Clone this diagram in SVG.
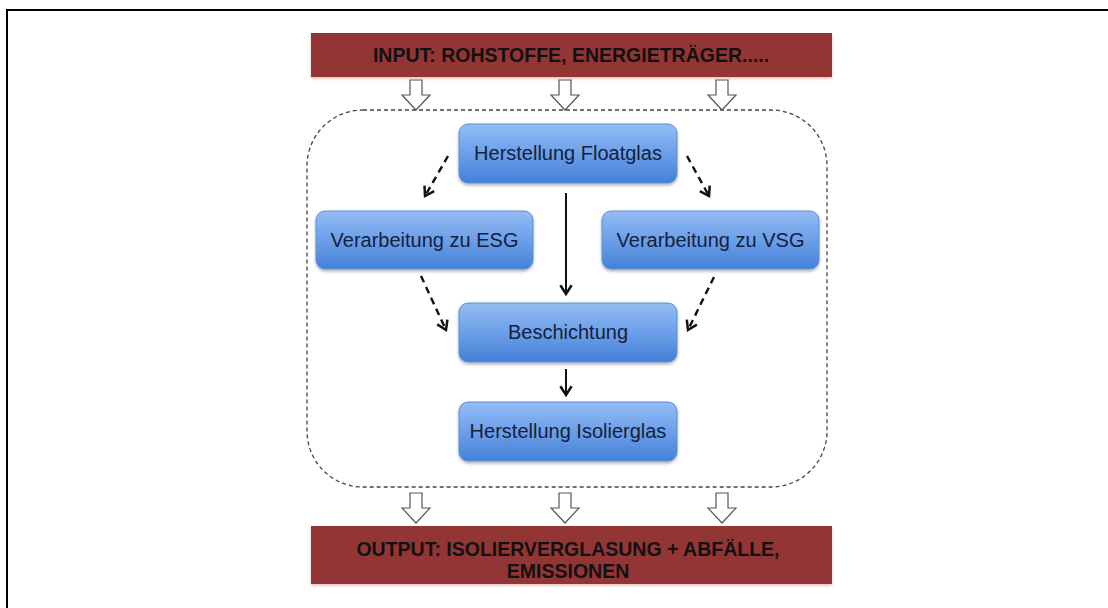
<svg xmlns="http://www.w3.org/2000/svg" width="1108" height="608" viewBox="0 0 1108 608">
  <style>
    .bar { fill: #943634; }
    .barText { font-family: "Liberation Sans", Arial, sans-serif; font-weight: bold; font-size: 19.5px; fill: #111; text-anchor: middle; }
    .box { fill: url(#boxGrad); stroke: #5b8fd6; stroke-width: 1; filter: url(#shadow); }
    .boxText { font-family: "Liberation Sans", Arial, sans-serif; font-size: 20px; fill: #14213d; text-anchor: middle; }
    .flow { fill: none; stroke: #111; stroke-width: 2; }
    .dash { stroke-dasharray: 7 5; stroke-width: 2.4; }
    .hollow { fill: #fff; stroke: #555; stroke-width: 1.2; stroke-linejoin: miter; }
    .boundary { fill: none; stroke: #444; stroke-width: 1.3; stroke-dasharray: 4 3; }
  </style>
  <defs>
    <linearGradient id="boxGrad" x1="0" y1="0" x2="0" y2="1">
      <stop offset="0" stop-color="#93bdf4"/>
      <stop offset="0.5" stop-color="#6c9fe8"/>
      <stop offset="1" stop-color="#4580d8"/>
    </linearGradient>
    <filter id="shadow" x="-10%" y="-10%" width="120%" height="130%">
      <feDropShadow dx="0" dy="2" stdDeviation="1.5" flood-color="#000" flood-opacity="0.3"/>
    </filter>
    <filter id="barShadow" x="-5%" y="-20%" width="110%" height="150%">
      <feDropShadow dx="0" dy="1.5" stdDeviation="1.5" flood-color="#c98a80" flood-opacity="0.6"/>
    </filter>
    <marker id="chevron" markerUnits="userSpaceOnUse" markerWidth="15" markerHeight="15" viewBox="0 0 12 12" refX="10" refY="6" orient="auto">
      <path d="M3,1.5 L10,6 L3,10.5" fill="none" stroke="#111" stroke-width="2" stroke-dasharray="none"/>
    </marker>
    <path id="blockArrow" d="M-6,0 H6 V15 H14 L0,30 L-14,15 H-6 Z"/>
  </defs>

  <!-- page frame (top and left rules) -->
  <path d="M7,608 V10 H1108" fill="none" stroke="#000" stroke-width="2"/>

  <!-- process boundary -->
  <rect class="boundary" x="307" y="110" width="520" height="377" rx="56" ry="56"/>

  <g id="input">
    <rect class="bar" x="311" y="33" width="521" height="44" filter="url(#barShadow)"/>
    <text class="barText" x="571" y="62">INPUT: ROHSTOFFE, ENERGIETRÄGER.....</text>
  </g>

  <g id="input-arrows">
    <use href="#blockArrow" class="hollow" transform="translate(416,80)"/>
    <use href="#blockArrow" class="hollow" transform="translate(565,80)"/>
    <use href="#blockArrow" class="hollow" transform="translate(722,80)"/>
  </g>

  <g id="floatglas">
    <rect class="box" x="459" y="124" width="218" height="59" rx="9"/>
    <text class="boxText" x="568" y="160">Herstellung Floatglas</text>
  </g>

  <g id="esg">
    <rect class="box" x="316" y="211" width="217" height="58" rx="9"/>
    <text class="boxText" x="424.5" y="247">Verarbeitung zu ESG</text>
  </g>

  <g id="vsg">
    <rect class="box" x="602" y="211" width="217" height="58" rx="9"/>
    <text class="boxText" x="710.5" y="247">Verarbeitung zu VSG</text>
  </g>

  <g id="beschichtung">
    <rect class="box" x="459" y="303" width="218" height="59" rx="9"/>
    <text class="boxText" x="568" y="339">Beschichtung</text>
  </g>

  <g id="isolierglas">
    <rect class="box" x="459" y="402" width="218" height="59" rx="9"/>
    <text class="boxText" x="568" y="438">Herstellung Isolierglas</text>
  </g>

  <g id="connectors">
    <line class="flow dash" x1="448" y1="156" x2="425" y2="196" marker-end="url(#chevron)"/>
    <line class="flow dash" x1="687" y1="156" x2="709" y2="196" marker-end="url(#chevron)"/>
    <line class="flow" x1="566" y1="193" x2="566" y2="294" marker-end="url(#chevron)"/>
    <line class="flow dash" x1="421" y1="276" x2="446" y2="330" marker-end="url(#chevron)"/>
    <line class="flow dash" x1="714" y1="277" x2="688" y2="330" marker-end="url(#chevron)"/>
    <line class="flow" x1="566" y1="369" x2="566" y2="395" marker-end="url(#chevron)"/>
  </g>

  <g id="output-arrows">
    <use href="#blockArrow" class="hollow" transform="translate(416,493)"/>
    <use href="#blockArrow" class="hollow" transform="translate(565,493)"/>
    <use href="#blockArrow" class="hollow" transform="translate(722,493)"/>
  </g>

  <g id="output">
    <rect class="bar" x="311" y="526" width="521" height="58" filter="url(#barShadow)"/>
    <text class="barText" x="568" y="556">OUTPUT: ISOLIERVERGLASUNG + ABFÄLLE,</text>
    <text class="barText" x="568" y="578">EMISSIONEN</text>
  </g>
</svg>
